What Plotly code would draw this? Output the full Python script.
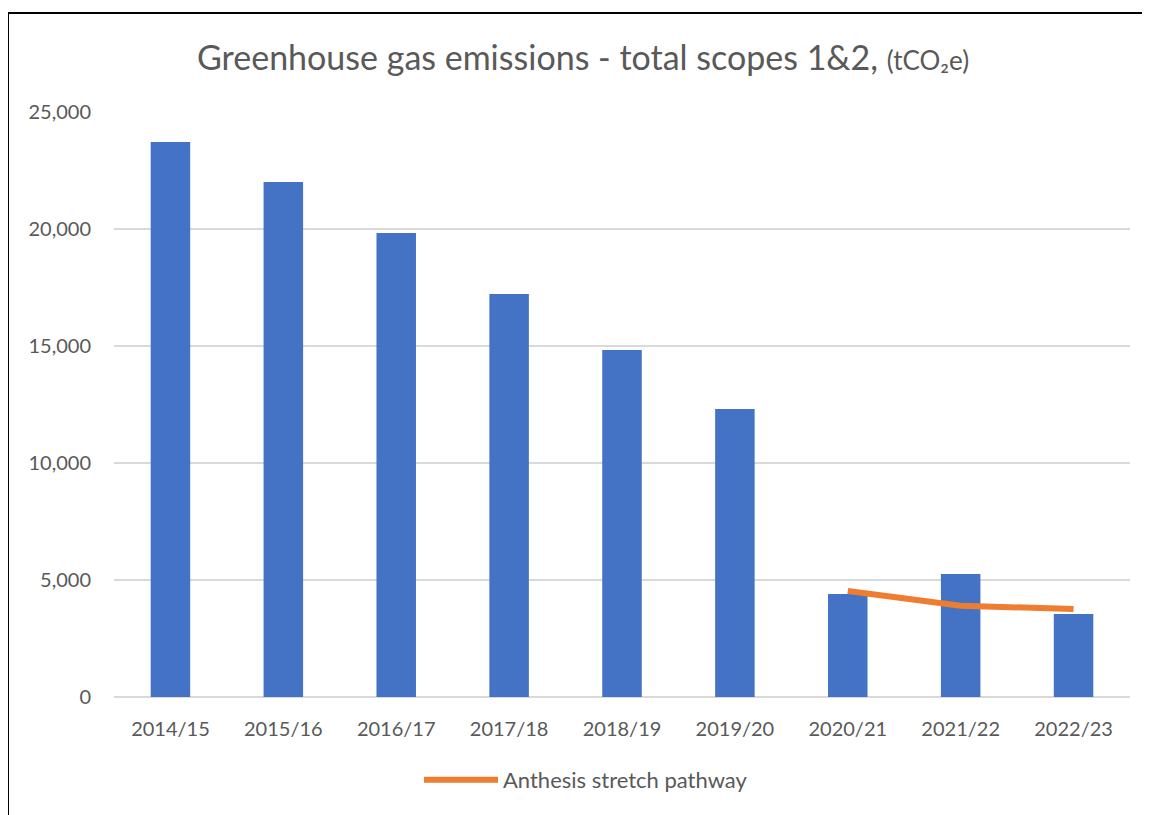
import plotly.graph_objects as go

years = ["2014/15", "2015/16", "2016/17", "2017/18", "2018/19",
         "2019/20", "2020/21", "2021/22", "2022/23"]
emissions = [23720, 22010, 19830, 17220, 14830, 12310, 4400, 5260, 3550]
path_years = ["2020/21", "2021/22", "2022/23"]
path_values = [4530, 3900, 3760]

FONT = "Lato"
GREY = "#595959"

# page body has an 8px margin, so figure coords = screen coords - 8
W, H = 1142, 807
L, R, T, B = 106, 20, 104, 118
PW = W - L - R
PH = H - T - B


def px(xpix):
    return (xpix - L) / PW


def py(ypix):
    return (H - B - ypix) / PH


fig = go.Figure()
fig.add_trace(go.Bar(x=years, y=emissions, marker=dict(color="#4472C4", line=dict(width=0)),
                     showlegend=False, name="Emissions"))
fig.add_trace(go.Scatter(x=path_years, y=path_values, mode="lines",
                         line=dict(color="#ED7D31", width=6),
                         name="Anthesis stretch pathway"))

fig.update_layout(
    width=W, height=H,
    margin=dict(l=L, r=R, t=T, b=B),
    paper_bgcolor="white", plot_bgcolor="white",
    bargap=0.65,
    font=dict(family=FONT, color=GREY, size=20),
    showlegend=True,
    legend=dict(orientation="h", x=px(578), xanchor="center", y=py(772), yanchor="middle",
                font=dict(size=22, color=GREY), itemwidth=74),
    xaxis=dict(showgrid=False, showline=False, ticks="", ticklabelstandoff=18,
               tickfont=dict(size=20, color=GREY)),
    yaxis=dict(range=[0, 25000], dtick=5000, tickformat=",d", showgrid=True,
               gridcolor="#D9D9D9", gridwidth=1.5, zeroline=True, zerolinecolor="#D9D9D9",
               zerolinewidth=1.5, showline=False, ticks="", ticklabelstandoff=22,
               tickfont=dict(size=20, color=GREY)),
    annotations=[dict(
        text="Greenhouse gas emissions - total scopes 1&2, <span style='font-size:26px'>(tCO₂e)</span>",
        xref="paper", yref="paper", x=px(575), y=py(49),
        xanchor="center", yanchor="middle", showarrow=False,
        font=dict(family=FONT, size=34, color=GREY))],
    shapes=[
        dict(type="line", xref="paper", yref="paper", x0=px(0), x1=px(W + 10),
             y0=py(5), y1=py(5), line=dict(color="black", width=2)),
        dict(type="line", xref="paper", yref="paper", x0=px(0), x1=px(0),
             y0=py(5), y1=py(H + 10), line=dict(color="black", width=2)),
    ],
)

fig.write_html("out.html")
